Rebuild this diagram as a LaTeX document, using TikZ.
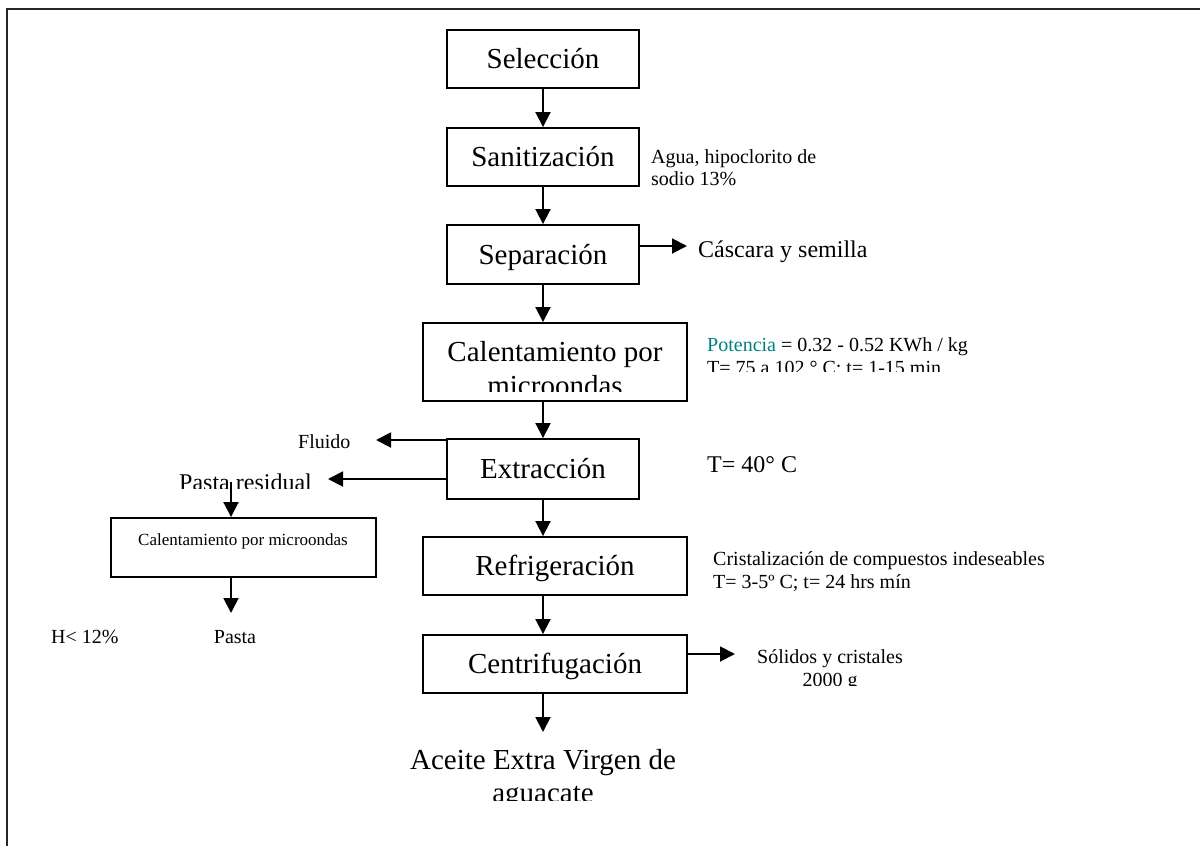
\documentclass[tikz,border=0pt]{standalone}
\usepackage{fontspec}
\setmainfont{Liberation Serif}
\usetikzlibrary{arrows.meta}
\definecolor{tealtxt}{RGB}{0,128,128}
\newcommand{\fsz}[1]{\fontsize{#1}{#1}\selectfont}
\begin{document}
\begin{tikzpicture}[x=1pt,y=-1pt,
  box/.style={draw,line width=1.9pt,inner sep=0pt,text height=19pt,text depth=0pt,font=\fsz{29}},
  arr/.style={line width=1.9pt,-{Triangle[length=15pt,width=15pt]}},
  lbl/.style={inner sep=0pt,anchor=base west},
  ctr/.style={inner sep=0pt,anchor=base},
]
\useasboundingbox (0,0) rectangle (1200,846);
\draw[line width=2.4pt,black!85] (7,846) -- (7,9) -- (1200,9);

% main boxes
\node[box,minimum width=192pt,minimum height=58pt] (sel) at (543,59) {Selección};
\node[box,minimum width=192pt,minimum height=58pt] (san) at (543,157) {Sanitización};
\node[box,minimum width=192pt,minimum height=59pt] (sep) at (543,254.5) {Separación};
\node[box,minimum width=264pt,minimum height=78pt] (cal) at (555,362) {};
\node[box,minimum width=192pt,minimum height=60pt] (ext) at (543,469) {Extracción};
\node[box,minimum width=264pt,minimum height=58pt] (ref) at (555,566) {Refrigeración};
\node[box,minimum width=264pt,minimum height=58pt] (cen) at (555,664) {Centrifugación};

\begin{scope}
\clip (425,325) rectangle (685,391);
\node[ctr,font=\fsz{29}] (calA) at (555,361) {Calentamiento por};
\node[ctr,font=\fsz{29}] (calB) at (555,395) {microondas};
\end{scope}

% vertical arrows
\draw[arr] (sel.south) -- (san.north);
\draw[arr] (san.south) -- (sep.north);
\draw[arr] (sep.south) -- (sep.south |- cal.north);
\draw[arr] (sep.south |- cal.south) -- (ext.north);
\draw[arr] (ext.south) -- (ext.south |- ref.north);
\draw[arr] (ext.south |- ref.south) -- (ext.south |- cen.north);
\coordinate (fin) at (543,732);
\draw[arr] (ext.south |- cen.south) -- (fin);

\begin{scope}
\clip (380,740) rectangle (720,800);
\node[ctr,font=\fsz{29}] (aceA) at (543,769) {Aceite Extra Virgen de};
\node[ctr,font=\fsz{29}] (aceB) at (543,802) {aguacate};
\end{scope}

% right labels
\node[lbl,font=\fsz{20}] (agua1) at (651,163) {Agua, hipoclorito de};
\node[lbl,font=\fsz{20}] (agua2) at (651,185) {sodio 13\%};

\coordinate (casc) at (687,246);
\draw[arr] (sep.east |- casc) -- (casc);
\node[lbl,font=\fsz{24}] (cascara) at (698,257) {Cáscara y semilla};

\begin{scope}
\clip (700,320) rectangle (1000,371);
\node[lbl,font=\fsz{20}] (pot1) at (707,351) {\textcolor{tealtxt}{Potencia} = 0.32 - 0.52 KWh / kg};
\node[lbl,font=\fsz{20}] (pot2) at (707,374) {T= 75 a 102 ° C; t= 1-15 min};
\end{scope}

\node[lbl,font=\fsz{24}] (t40) at (707,472) {T= 40° C};

\node[lbl,font=\fsz{20}] (cri1) at (713,565) {Cristalización de compuestos indeseables};
\node[lbl,font=\fsz{20}] (cri2) at (713,588) {T= 3-5º C; t= 24 hrs mín};

\coordinate (sol) at (735,654);
\draw[arr] (cen.east |- sol) -- (sol);
\begin{scope}
\clip (740,640) rectangle (920,685);
\node[ctr,font=\fsz{20}] (sol1) at (830,663) {Sólidos y cristales};
\node[ctr,font=\fsz{20}] (sol2) at (830,686.5) {2000 g};
\end{scope}

% left branch
\coordinate (fl) at (376,440);
\draw[arr] (ext.west |- fl) -- (fl);
\node[lbl,font=\fsz{20}] (fluido) at (298,448) {Fluido};

\coordinate (pr) at (328,479);
\draw[arr] (ext.west |- pr) -- (pr);
\begin{scope}
\clip (170,455) rectangle (320,488.5);
\node[lbl,font=\fsz{24}] (pres) at (179,490) {Pasta residual};
\end{scope}

\node[draw,line width=1.9pt,inner sep=0pt,minimum width=265pt,minimum height=59pt] (cal2) at (243.5,547.5) {};
\node[ctr,font=\fsz{17}] (cal2t) at (243,545) {Calentamiento por microondas};

\coordinate (prtop) at (231,482);
\draw[arr] (prtop) -- (prtop |- cal2.north);
\coordinate (pastapt) at (231,613);
\draw[arr] (pastapt |- cal2.south) -- (pastapt);

\node[ctr,font=\fsz{20}] (pasta) at (235,643) {Pasta};
\node[lbl,font=\fsz{20}] (hum) at (51,643) {H< 12\%};
\end{tikzpicture}
\end{document}
